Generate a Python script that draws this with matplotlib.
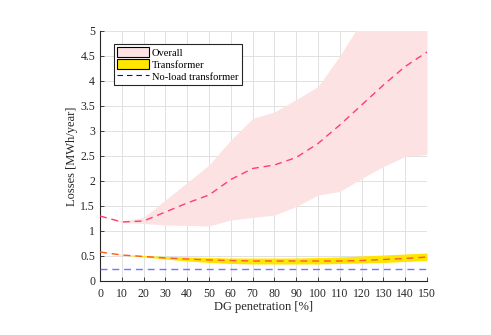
import matplotlib
matplotlib.use("Agg")
import matplotlib.pyplot as plt
from matplotlib.patches import Patch
from matplotlib.lines import Line2D

plt.rcParams['font.family'] = ['Liberation Serif', 'DejaVu Serif']

dg = [0, 10, 20, 30, 40, 50, 60, 70, 80, 90, 100, 110, 120, 130, 140, 150]
overall_mean = [1.30, 1.18, 1.20, 1.38, 1.56, 1.72, 2.03, 2.25, 2.32, 2.47, 2.75, 3.12, 3.52, 3.92, 4.29, 4.58]
overall_upper = [1.30, 1.20, 1.27, 1.62, 1.97, 2.32, 2.82, 3.25, 3.38, 3.63, 3.89, 4.50, 5.20, 5.60, 6.00, 6.40]
overall_lower = [1.30, 1.17, 1.15, 1.12, 1.11, 1.10, 1.22, 1.27, 1.32, 1.49, 1.72, 1.79, 2.05, 2.29, 2.49, 2.53]
trafo_mean = [0.58, 0.52, 0.49, 0.46, 0.44, 0.42, 0.41, 0.40, 0.40, 0.40, 0.40, 0.40, 0.41, 0.43, 0.45, 0.48]
trafo_upper = [0.58, 0.53, 0.51, 0.49, 0.48, 0.47, 0.46, 0.46, 0.46, 0.46, 0.47, 0.48, 0.50, 0.52, 0.54, 0.56]
trafo_lower = [0.58, 0.52, 0.48, 0.44, 0.40, 0.37, 0.35, 0.34, 0.34, 0.34, 0.34, 0.35, 0.36, 0.37, 0.39, 0.41]
noload = [0.245] * len(dg)

fig = plt.figure(figsize=(4.91, 3.35), dpi=100)
ax = fig.add_axes([0.2037, 0.1612, 0.666, 0.7463])

ax.fill_between(dg, overall_lower, overall_upper, color='#fde2e3', lw=0, zorder=2)
ax.plot(dg, overall_mean, color='#ff3d6e', ls=(0, (5, 3.5)), lw=1.0, zorder=4)
ax.fill_between(dg, trafo_lower, trafo_upper, color='#ffe600', lw=0, zorder=2)
ax.plot(dg, trafo_mean, color='#ff5a2a', ls=(0, (5, 3.5)), lw=1.0, zorder=4)
ax.plot(dg, noload, color='#5c5cff', alpha=0.85, ls=(0, (5, 3.5)), lw=1.0, zorder=4)

ax.set_xlim(0, 150)
ax.set_ylim(0, 5)
ax.set_xticks(range(0, 151, 10))
ax.set_yticks([0, 0.5, 1, 1.5, 2, 2.5, 3, 3.5, 4, 4.5, 5])
ax.set_yticklabels(['0', '0.5', '1', '1.5', '2', '2.5', '3', '3.5', '4', '4.5', '5'])
ax.grid(True, color='#dcdcdc', lw=0.6, zorder=0)
ax.set_axisbelow(True)
for s in ['top', 'right']:
    ax.spines[s].set_visible(False)
for s in ['left', 'bottom']:
    ax.spines[s].set_color('#262626')
    ax.spines[s].set_linewidth(0.8)
ax.tick_params(direction='in', length=3, width=0.6, labelsize=8.5, colors='#262626')
ax.tick_params(axis='y', pad=3.5)
ax.tick_params(axis='x', pad=5)
ax.set_xlabel('DG penetration [%]', fontsize=9, color='#262626', labelpad=1)
ax.set_ylabel('Losses [MWh/year]', fontsize=9, color='#262626', labelpad=2)

handles = [
    Patch(facecolor='#fde2e3', edgecolor='black', lw=0.8, label='Overall'),
    Patch(facecolor='#ffe600', edgecolor='black', lw=0.8, label='Transformer'),
    Line2D([], [], color='blue', ls=(0, (5, 3.5)), lw=0.8, label='No-load transformer'),
]
leg = ax.legend(handles=handles, loc='upper left', bbox_to_anchor=(0.043, 0.948),
                fontsize=7.6, fancybox=False, framealpha=1, edgecolor='#262626',
                handlelength=3.0, handleheight=1.1, handletextpad=0.3,
                labelspacing=0.12, borderpad=0.3, borderaxespad=0)
leg.get_frame().set_linewidth(0.8)

fig.savefig('out.png', dpi=100)
